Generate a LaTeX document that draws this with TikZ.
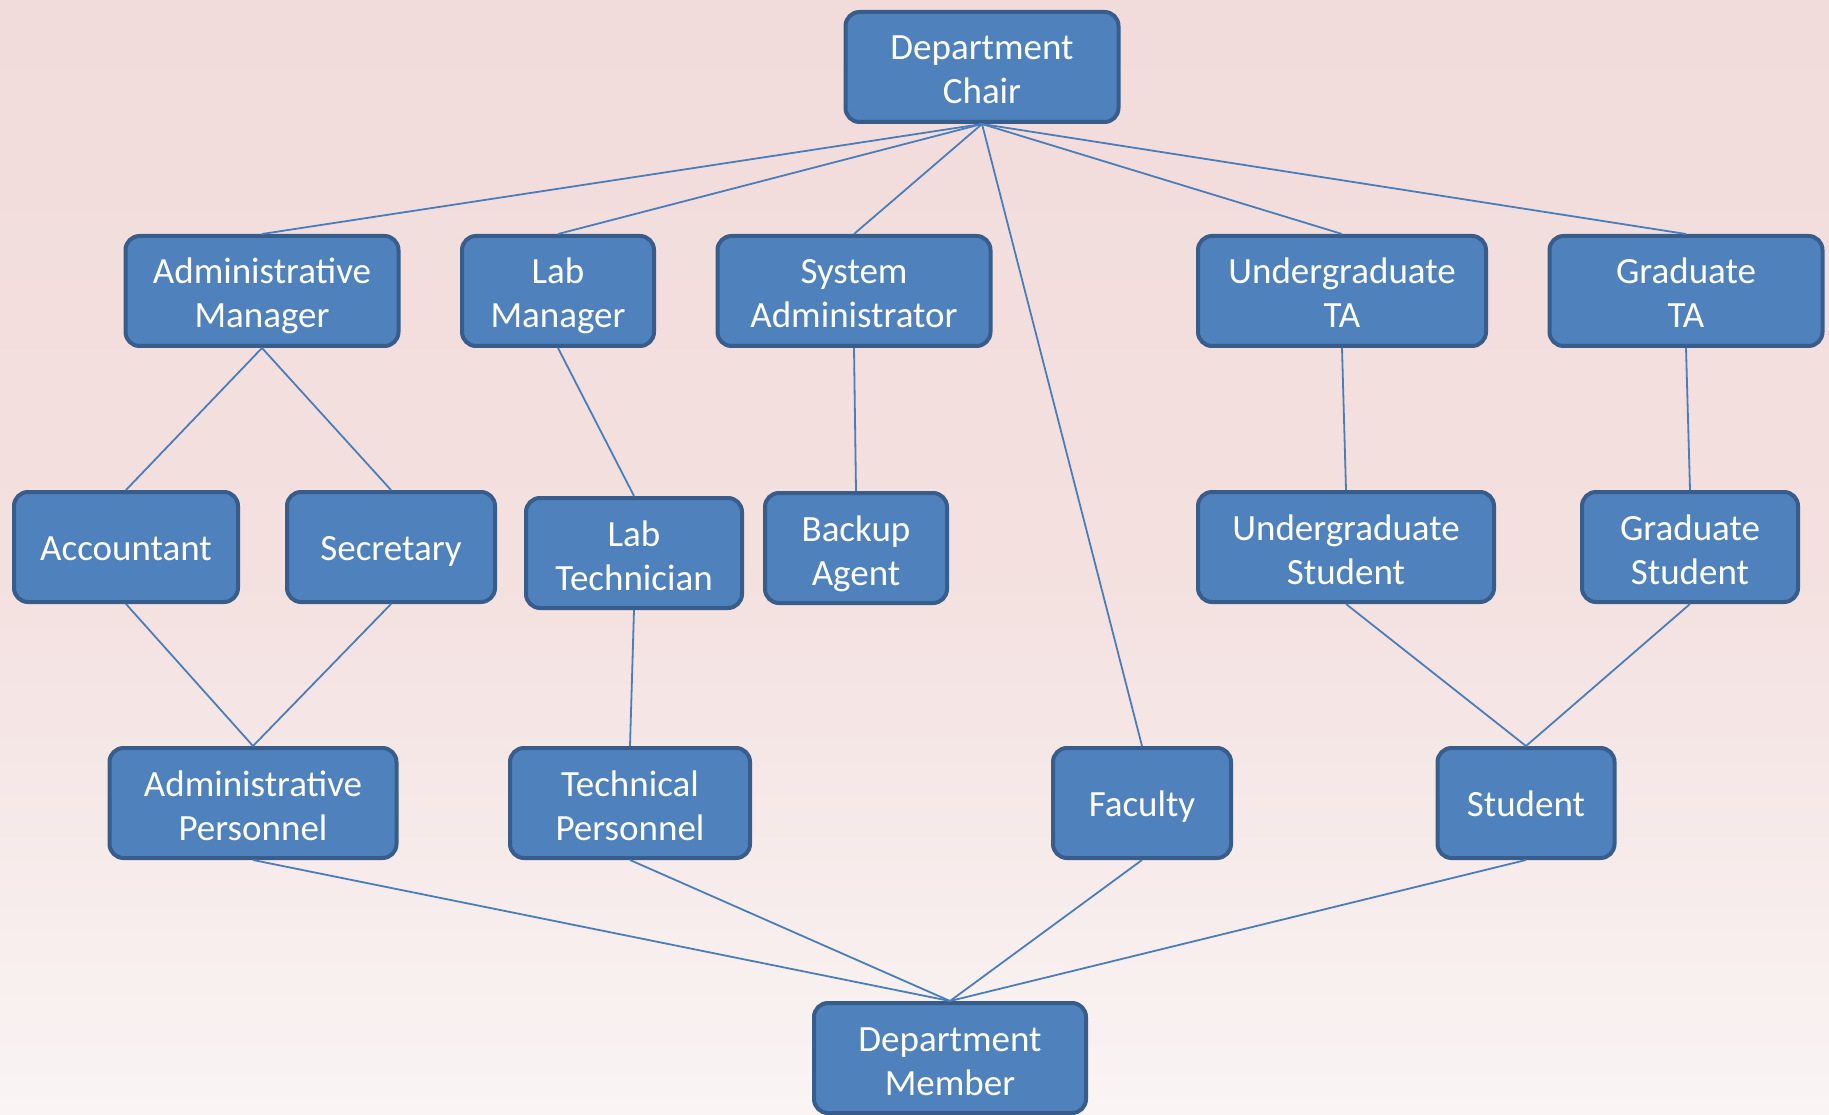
\documentclass[tikz,border=0pt]{standalone}
\usepackage{fontspec}
\setmainfont{Carlito}
\definecolor{boxfill}{HTML}{4F81BD}
\definecolor{boxedge}{HTML}{385D8A}
\definecolor{linkcol}{HTML}{4A7EBB}
\definecolor{bgtop}{HTML}{F2DCDB}
\definecolor{bgmid}{HTML}{F3E0DF}
\definecolor{bgbot}{HTML}{FAF4F4}
\begin{document}
\begin{tikzpicture}[x=1pt,y=-1pt,
  role/.style={draw=boxedge, fill=boxfill, line width=4pt, rounded corners=14pt,
    text=white, align=center, inner sep=0pt, minimum height=110pt,
    font=\fontsize{37}{44}\selectfont},
  one/.style={role, text height=35pt, text depth=9pt},
  two/.style={role, text height=84pt, text depth=10pt},
  link/.style={draw=linkcol, line width=1.8pt}]
  % background
  \shade[top color=bgtop, bottom color=bgbot, middle color=bgmid] (0,0) rectangle (1829,1115);
  \useasboundingbox (0,0) rectangle (1829,1115);

  % top
  \node[two, minimum width=273pt] (chair) at (982,67) {Department\\Chair};

  % second row
  \node[two, minimum width=273pt] (adm)  at (262,291) {Administrative\\Manager};
  \node[two, minimum width=192pt] (labm) at (558,291) {Lab\\Manager};
  \node[two, minimum width=273pt] (sys)  at (854,291) {System\\Administrator};
  \node[two, minimum width=288pt] (uta)  at (1342,291) {Undergraduate\\TA};
  \node[two, minimum width=273pt] (gta)  at (1686,291) {Graduate\\TA};

  % third row
  \node[one, minimum width=224pt] (acc)  at (126,547) {Accountant};
  \node[one, minimum width=208pt] (sec)  at (391,547) {Secretary};
  \node[two, minimum width=216pt] (labt) at (634,553) {Lab\\Technician};
  \node[two, minimum width=182pt] (bak)  at (856,548) {Backup\\Agent};
  \node[two, minimum width=296pt] (ugs)  at (1346,547) {Undergraduate\\Student};
  \node[two, minimum width=216pt] (grs)  at (1690,547) {Graduate\\Student};

  % fourth row
  \node[two, minimum width=287pt] (admp) at (253,803) {Administrative\\Personnel};
  \node[two, minimum width=240pt] (tech) at (630,803) {Technical\\Personnel};
  \node[one, minimum width=178pt] (fac)  at (1142,803) {Faculty};
  \node[one, minimum width=177pt] (stu)  at (1526,803) {Student};

  % bottom
  \node[two, minimum width=272pt] (mem)  at (950,1058) {Department\\Member};

  % connectors
  \foreach \c in {adm,labm,sys,uta,gta,fac}
    \draw[link] (chair.south) -- (\c.north);
  \draw[link] (adm.south) -- (acc.north);
  \draw[link] (adm.south) -- (sec.north);
  \draw[link] (labm.south) -- (labt.north);
  \draw[link] (sys.south) -- (bak.north);
  \draw[link] (uta.south) -- (ugs.north);
  \draw[link] (gta.south) -- (grs.north);
  \draw[link] (acc.south) -- (admp.north);
  \draw[link] (sec.south) -- (admp.north);
  \draw[link] (labt.south) -- (tech.north);
  \draw[link] (ugs.south) -- (stu.north);
  \draw[link] (grs.south) -- (stu.north);
  \foreach \c in {admp,tech,fac,stu}
    \draw[link] (\c.south) -- (mem.north);
\end{tikzpicture}
\end{document}
